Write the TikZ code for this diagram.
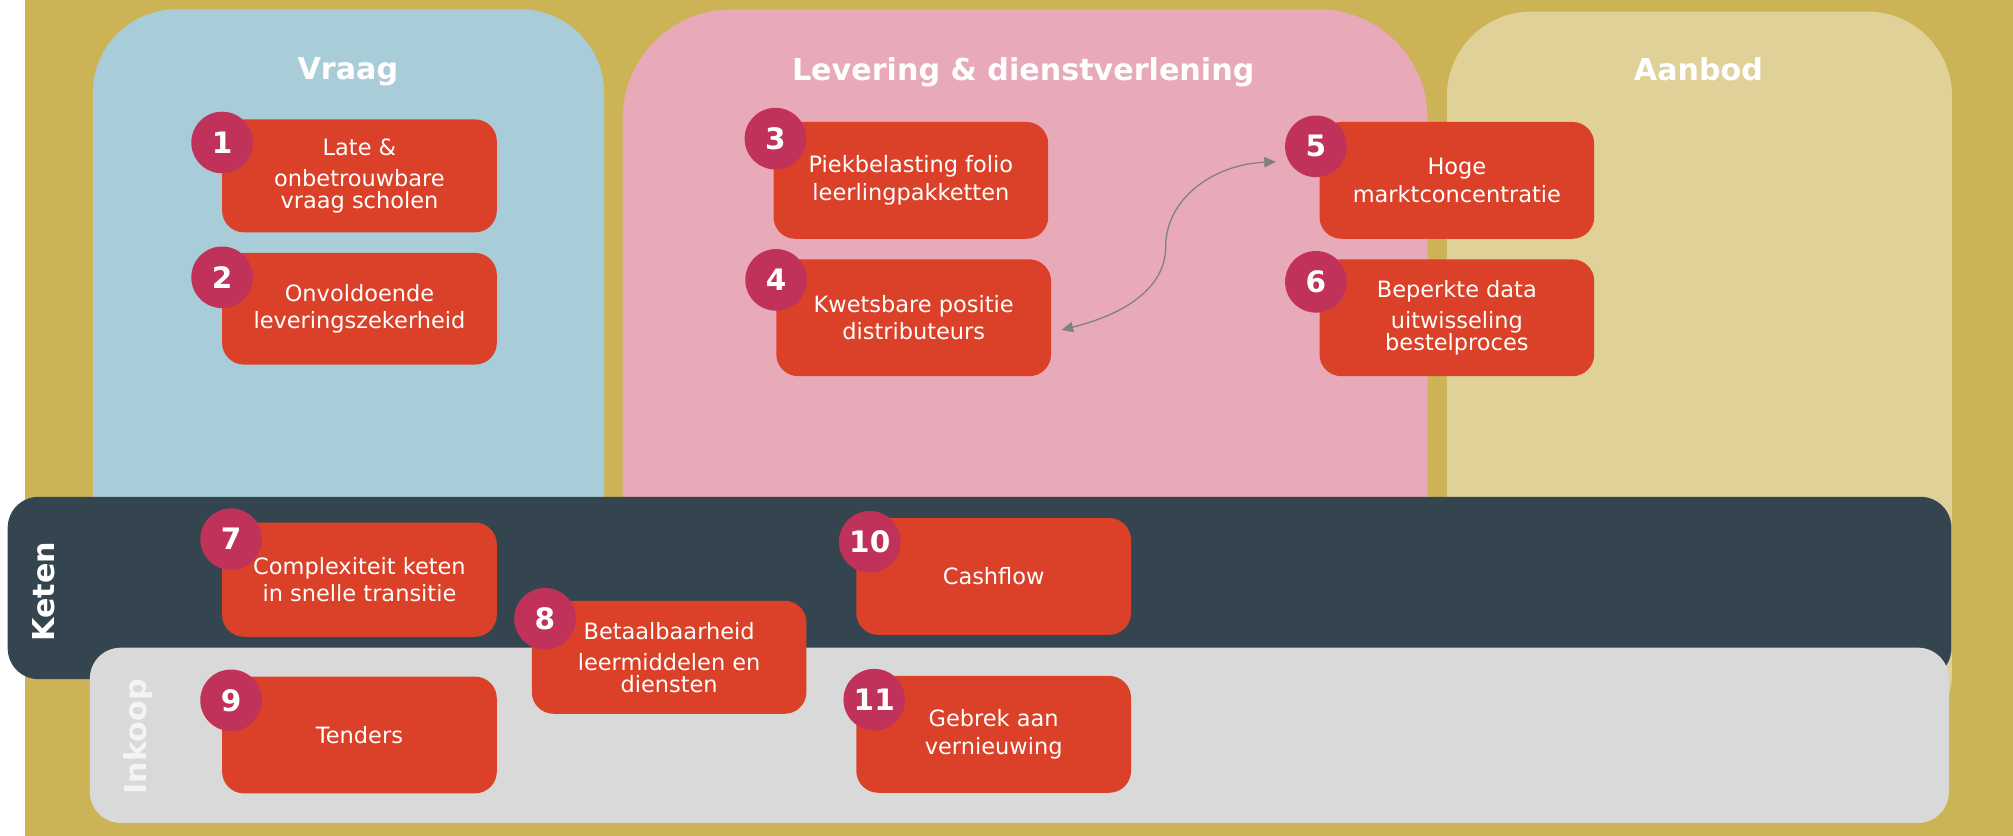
\documentclass[tikz,border=0pt]{standalone}
\usepackage{fontspec}
\setmainfont{DejaVu Sans}
\usetikzlibrary{arrows.meta,calc}
\definecolor{goldbg}{RGB}{204,179,86}
\definecolor{vraagblue}{RGB}{168,205,216}
\definecolor{levpink}{RGB}{232,169,184}
\definecolor{aanbeige}{RGB}{224,209,152}
\definecolor{ketenslate}{RGB}{52,69,79}
\definecolor{inkoopgray}{RGB}{217,217,217}
\definecolor{boxred}{RGB}{219,65,40}
\definecolor{badge}{RGB}{192,50,90}
\definecolor{arrowgray}{RGB}{128,128,128}
\definecolor{inkooptext}{RGB}{244,244,244}
\begin{document}
\begin{tikzpicture}[x=1pt,y=-1pt,
  issue/.style={fill=boxred, rounded corners=17, minimum width=214, minimum height=89,
    inner sep=0, text=white, align=center, font=\fontsize{17.5}{21.5}\selectfont},
  issuethree/.style={issue, font=\fontsize{17.5}{17}\selectfont},
  numbadge/.style={circle, fill=badge, minimum size=48, inner sep=0, text=white,
    font=\bfseries\fontsize{23}{23}\selectfont},
  paneltitle/.style={text=white, font=\bfseries\fontsize{23.5}{24}\selectfont},
  conn/.style={draw=arrowgray, line width=1pt,
    {Triangle[length=9pt,width=8pt]}-{Triangle[length=9pt,width=8pt]}}
]
\useasboundingbox (0,0) rectangle (1568,651);
\fill[white] (0,0) rectangle (1568,651);
\fill[goldbg] (19.5,0) rectangle (1568,651);
% columns
\fill[vraagblue, rounded corners=65] (72.3,7.3) rectangle (470.5,480);
\fill[levpink, rounded corners=85] (485,7.3) rectangle (1112,500);
\fill[aanbeige, rounded corners=66] (1127,9) rectangle (1520.5,590);
% rows
\fill[ketenslate, rounded corners=24] (6,387) rectangle (1520,529);
\fill[inkoopgray, rounded corners=24] (70,504.5) rectangle (1518,641);
% titles
\node[paneltitle] (tvraag) at (271,56) {Vraag};
\node[paneltitle] (tlev) at (797,56) {Levering \& dienstverlening};
\node[paneltitle] (taanbod) at (1323,54) {Aanbod};
\node[paneltitle, rotate=90] (tketen) at (34,461) {Keten};
\node[paneltitle, rotate=90, text=inkooptext] (tinkoop) at (108,574) {Inkoop};
% issues
\node[issuethree, minimum height=88] (b1) at (280,137) {Late \&\\[7pt]onbetrouwbare\\vraag scholen};
\node[issue, minimum height=87] (b2) at (280,240.5) {Onvoldoende\\leveringszekerheid};
\node[issue, minimum height=91] (b3) at (709.5,140.5) {Piekbelasting folio\\leerlingpakketten};
\node[issue, minimum height=91] (b4) at (711.7,247.5) {Kwetsbare positie\\distributeurs};
\node[issue, minimum height=91] (b5) at (1134.8,140.5) {Hoge\\marktconcentratie};
\node[issuethree, minimum height=91] (b6) at (1134.8,247.5) {Beperkte data\\[7pt]uitwisseling\\bestelproces};
\node[issue, minimum height=89] (b7) at (280,451.5) {Complexiteit keten\\in snelle transitie};
\node[issuethree, minimum height=88] (b8) at (521.2,512) {Betaalbaarheid\\[7pt]leermiddelen en\\diensten};
\node[issue, minimum height=91] (b9) at (280,572.5) {Tenders};
\node[issue, minimum height=91] (b10) at (774,449) {Cashflow};
\node[issue, minimum height=91] (b11) at (774,572) {Gebrek aan\\vernieuwing};
% badges
\node[numbadge] (n1) at (173,111) {1};
\node[numbadge] (n2) at (173,216) {2};
\node[numbadge] (n3) at (604,108) {3};
\node[numbadge] (n4) at (604.5,218) {4};
\node[numbadge] (n5) at (1025,114) {5};
\node[numbadge] (n6) at (1025,219.5) {6};
\node[numbadge] (n7) at (180,420) {7};
\node[numbadge] (n8) at (424.5,482) {8};
\node[numbadge] (n9) at (180,545.5) {9};
\node[numbadge] (n10) at (677.5,422) {10};
\node[numbadge] (n11) at (681,545) {11};
% connector
\coordinate (arrmid) at (908,192);
\draw[conn] ($(b4.east)+(8,9.5)$) .. controls (875,245) and (908,225) .. (arrmid)
  .. controls (908,155) and (945,128) .. ($(n5.west)+(-7,12)$);
\end{tikzpicture}
\end{document}
